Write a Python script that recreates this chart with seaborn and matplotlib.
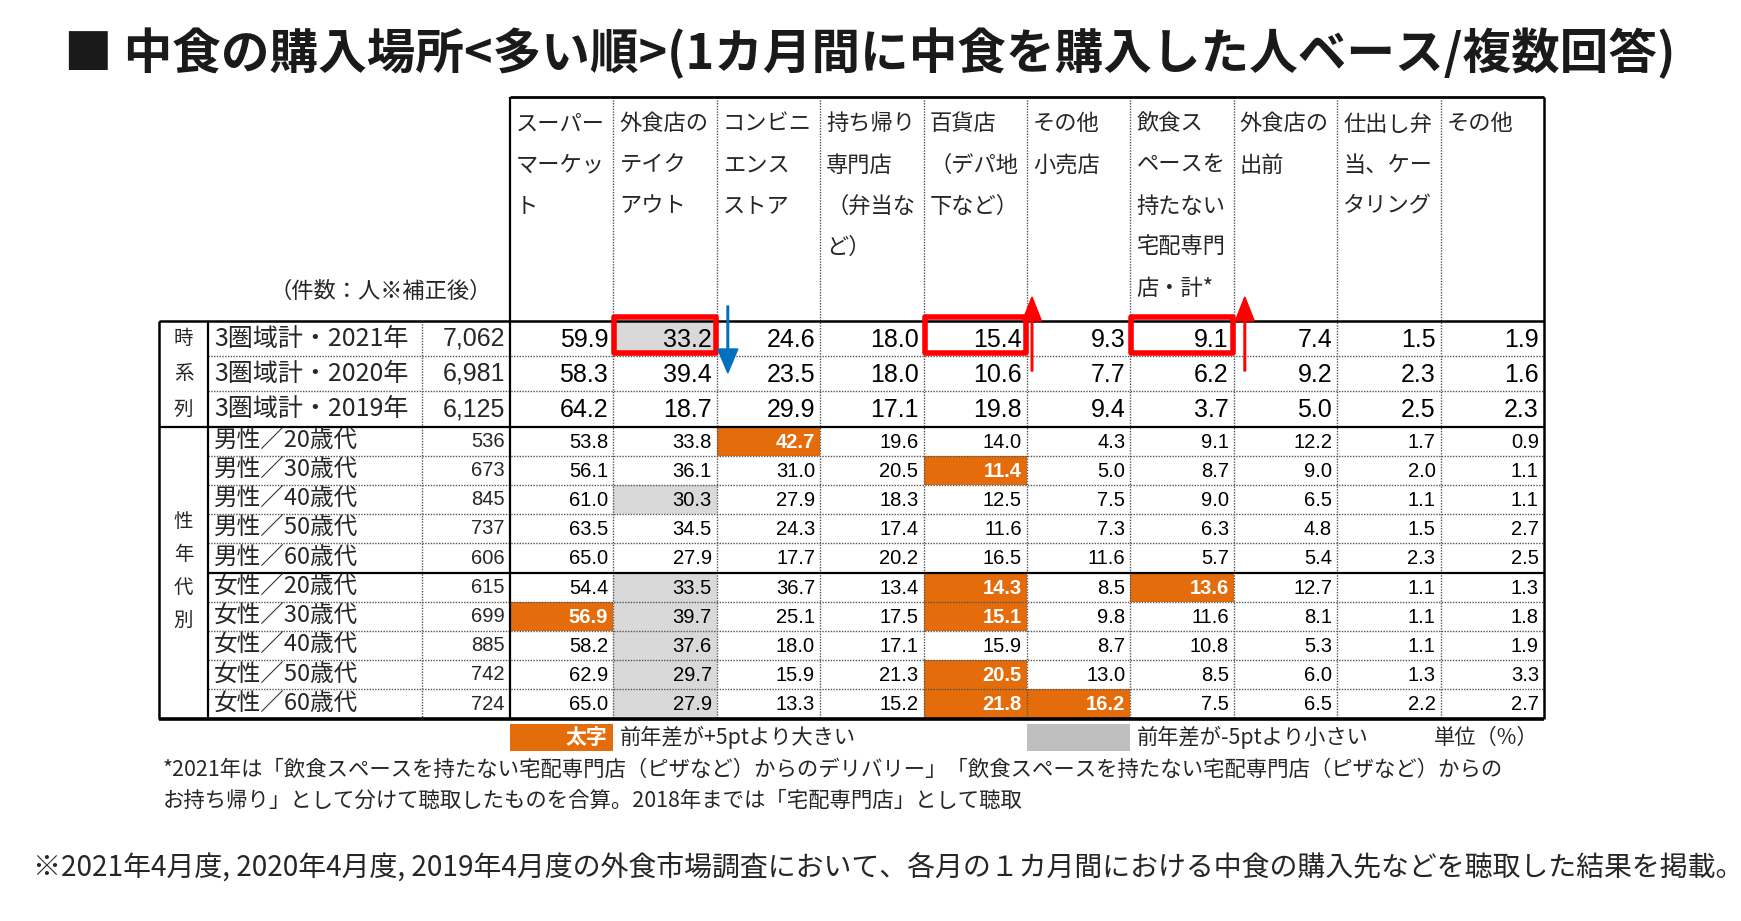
import numpy as np
import pandas as pd
import matplotlib.pyplot as plt
import seaborn as sns
from matplotlib import font_manager
from matplotlib.colors import ListedColormap
from matplotlib.patches import Rectangle, FancyArrow

# ---- data ----
title = "■ 中食の購入場所<多い順>(1カ月間に中食を購入した人ベース/複数回答)"
columns = ["スーパーマーケット", "外食店のテイクアウト", "コンビニエンスストア",
           "持ち帰り専門店（弁当など）", "百貨店（デパ地下など）", "その他小売店",
           "飲食スペースを持たない宅配専門店・計*", "外食店の出前",
           "仕出し弁当、ケータリング", "その他"]
header_lines = [["スーパー", "マーケッ", "ト"],
                ["外食店の", "テイク", "アウト"],
                ["コンビニ", "エンス", "ストア"],
                ["持ち帰り", "専門店", "（弁当な", "ど）"],
                ["百貨店", "（デパ地", "下など）"],
                ["その他", "小売店"],
                ["飲食ス", "ペースを", "持たない", "宅配専門", "店・計*"],
                ["外食店の", "出前"],
                ["仕出し弁", "当、ケー", "タリング"],
                ["その他"]]

ts_labels = ["3圏域計・2021年", "3圏域計・2020年", "3圏域計・2019年"]
ts_counts = [7062, 6981, 6125]
ts_values = [[59.9, 33.2, 24.6, 18.0, 15.4, 9.3, 9.1, 7.4, 1.5, 1.9],
             [58.3, 39.4, 23.5, 18.0, 10.6, 7.7, 6.2, 9.2, 2.3, 1.6],
             [64.2, 18.7, 29.9, 17.1, 19.8, 9.4, 3.7, 5.0, 2.5, 2.3]]
# 0 = none, 1 = +5pt or more (orange), 2 = -5pt or less (grey)
ts_flags = [[0, 2, 0, 0, 0, 0, 0, 0, 0, 0],
            [0, 0, 0, 0, 0, 0, 0, 0, 0, 0],
            [0, 0, 0, 0, 0, 0, 0, 0, 0, 0]]

demo_labels = ["男性／20歳代", "男性／30歳代", "男性／40歳代", "男性／50歳代", "男性／60歳代",
               "女性／20歳代", "女性／30歳代", "女性／40歳代", "女性／50歳代", "女性／60歳代"]
demo_counts = [536, 673, 845, 737, 606, 615, 699, 885, 742, 724]
demo_values = [[53.8, 33.8, 42.7, 19.6, 14.0, 4.3, 9.1, 12.2, 1.7, 0.9],
               [56.1, 36.1, 31.0, 20.5, 11.4, 5.0, 8.7, 9.0, 2.0, 1.1],
               [61.0, 30.3, 27.9, 18.3, 12.5, 7.5, 9.0, 6.5, 1.1, 1.1],
               [63.5, 34.5, 24.3, 17.4, 11.6, 7.3, 6.3, 4.8, 1.5, 2.7],
               [65.0, 27.9, 17.7, 20.2, 16.5, 11.6, 5.7, 5.4, 2.3, 2.5],
               [54.4, 33.5, 36.7, 13.4, 14.3, 8.5, 13.6, 12.7, 1.1, 1.3],
               [56.9, 39.7, 25.1, 17.5, 15.1, 9.8, 11.6, 8.1, 1.1, 1.8],
               [58.2, 37.6, 18.0, 17.1, 15.9, 8.7, 10.8, 5.3, 1.1, 1.9],
               [62.9, 29.7, 15.9, 21.3, 20.5, 13.0, 8.5, 6.0, 1.3, 3.3],
               [65.0, 27.9, 13.3, 15.2, 21.8, 16.2, 7.5, 6.5, 2.2, 2.7]]
demo_flags = [[0, 0, 1, 0, 0, 0, 0, 0, 0, 0],
              [0, 0, 0, 0, 1, 0, 0, 0, 0, 0],
              [0, 2, 0, 0, 0, 0, 0, 0, 0, 0],
              [0, 0, 0, 0, 0, 0, 0, 0, 0, 0],
              [0, 0, 0, 0, 0, 0, 0, 0, 0, 0],
              [0, 2, 0, 0, 1, 0, 1, 0, 0, 0],
              [1, 2, 0, 0, 1, 0, 0, 0, 0, 0],
              [0, 2, 0, 0, 0, 0, 0, 0, 0, 0],
              [0, 2, 0, 0, 1, 0, 0, 0, 0, 0],
              [0, 2, 0, 0, 1, 1, 0, 0, 0, 0]]

# highlighted cells in the 2021 row, and the direction of change
boxed_cols = [1, 4, 6]
arrow_dirs = ["down", "up", "up"]

legend_up = "前年差が+5ptより大きい"
legend_down = "前年差が-5ptより小さい"
unit_text = "単位（%）"
note_count = "（件数：人※補正後）"
footnote = ["*2021年は「飲食スペースを持たない宅配専門店（ピザなど）からのデリバリー」「飲食スペースを持たない宅配専門店（ピザなど）からの",
            "お持ち帰り」として分けて聴取したものを合算。2018年までは「宅配専門店」として聴取"]
bottom_note = "※2021年4月度, 2020年4月度, 2019年4月度の外食市場調査において、各月の１カ月間における中食の購入先などを聴取した結果を掲載。"

# ---- style ----
sns.set_style("white")
plt.rcParams["font.family"] = ["Noto Sans CJK JP", "DejaVu Sans"]
names = {f.name for f in font_manager.fontManager.ttflist}
NUM_FONT = "Liberation Sans" if "Liberation Sans" in names else "DejaVu Sans"

ORANGE = "#E46C0A"
GREY = "#D9D9D9"
GREY_LEG = "#BFBFBF"
RED = "#FF0000"
BLUE = "#0070C0"

W, H = 1741, 921
X_OUT, X_CAT, X_LAB, X_CNT, X_RIGHT = 159, 208, 422, 510, 1544
Y_HEAD, Y_TS = 97, 321
ROW_TS, ROW_DEMO = 35.2, 29.2
Y_DEMO = Y_TS + ROW_TS * len(ts_labels)
Y_BOT = Y_DEMO + ROW_DEMO * len(demo_labels)
COL_W = (X_RIGHT - X_CNT) / len(columns)

fig = plt.figure(figsize=(W / 100, H / 100), dpi=100)


def px_axes(x0, y0, x1, y1):
    return fig.add_axes([x0 / W, 1 - y1 / H, (x1 - x0) / W, (y1 - y0) / H])


cmap = ListedColormap(["white", ORANGE, GREY])


def draw_block(ax, values, flags, labels, size):
    df = pd.DataFrame(values, index=labels, columns=columns)
    fl = pd.DataFrame(flags, index=labels, columns=columns)
    sns.heatmap(fl, ax=ax, cmap=cmap, vmin=-0.5, vmax=2.5, cbar=False,
                annot=df, fmt=".1f", annot_kws={"fontsize": size, "family": NUM_FONT},
                xticklabels=False, yticklabels=False, linewidths=0)
    for t, f in zip(ax.texts, np.array(flags).ravel()):
        x, y = t.get_position()
        t.set_position((x + 0.45, y + 0.03))
        t.set_ha("right")
        t.set_color("white" if f == 1 else "black")
        t.set_fontweight("bold" if f == 1 else "normal")
    ax.set_axis_off()


draw_block(px_axes(X_CNT, Y_TS, X_RIGHT, Y_DEMO), ts_values, ts_flags, ts_labels, 18)
draw_block(px_axes(X_CNT, Y_DEMO, X_RIGHT, Y_BOT), demo_values, demo_flags, demo_labels, 14.5)

# overlay in pixel coordinates for grid, labels and notes
ov = fig.add_axes([0, 0, 1, 1])
ov.set_xlim(0, W)
ov.set_ylim(H, 0)
ov.axis("off")
ov.patch.set_alpha(0)

ov.text(64, 53, title, fontsize=35, fontweight="bold", va="center", ha="left", color="#1a1a1a")

# header
for i, lines in enumerate(header_lines):
    for j, s in enumerate(lines):
        ov.text(X_CNT + i * COL_W + 6, 124 + j * 41, s, fontsize=16, va="center", ha="left")
ov.text(492, 291, note_count, fontsize=16, va="center", ha="right")

# row labels and counts
dot = dict(color="#555555", lw=1, linestyle=(0, (1, 1)))
for k, (lab, n) in enumerate(zip(ts_labels, ts_counts)):
    yc = Y_TS + ROW_TS * (k + 0.5)
    ov.text(X_CAT + 6, yc, lab, fontsize=18, va="center", ha="left")
    ov.text(X_CNT - 5, yc, f"{n:,}", fontsize=18, family=NUM_FONT, va="center", ha="right")
    ov.text((X_OUT + X_CAT) / 2, yc, "時系列"[k], fontsize=14, va="center", ha="center")
for k, (lab, n) in enumerate(zip(demo_labels, demo_counts)):
    yc = Y_DEMO + ROW_DEMO * (k + 0.5)
    ov.text(X_CAT + 6, yc, lab, fontsize=17, va="center", ha="left")
    ov.text(X_CNT - 5, yc, f"{n:,}", fontsize=14.5, family=NUM_FONT, va="center", ha="right")
for k, ch in enumerate("性年代別"):
    ov.text((X_OUT + X_CAT) / 2, 521 + k * 33, ch, fontsize=14, va="center", ha="center")

# grid: dotted
for i in range(1, len(columns)):
    ov.vlines(X_CNT + i * COL_W, Y_HEAD, Y_BOT, **dot)
ov.vlines(X_LAB, Y_TS, Y_BOT, **dot)
for k in range(1, len(ts_labels)):
    ov.hlines(Y_TS + k * ROW_TS, X_CAT, X_RIGHT, **dot)
for k in range(1, len(demo_labels)):
    if k != 5:
        ov.hlines(Y_DEMO + k * ROW_DEMO, X_CAT, X_RIGHT, **dot)

# grid: solid
ov.hlines(Y_HEAD, X_CNT, X_RIGHT, color="black", lw=2)
ov.hlines(Y_TS, X_OUT, X_RIGHT, color="black", lw=1.8)
ov.hlines(Y_DEMO, X_OUT, X_RIGHT, color="black", lw=1.6)
ov.hlines(Y_DEMO + 5 * ROW_DEMO, X_CAT, X_RIGHT, color="black", lw=1.6)
ov.hlines(Y_BOT, X_OUT, X_RIGHT, color="black", lw=2.6)
ov.vlines(X_CNT, Y_HEAD, Y_BOT, color="black", lw=1.6)
ov.vlines(X_RIGHT, Y_HEAD, Y_BOT, color="black", lw=1.8)
ov.vlines(X_OUT, Y_TS, Y_BOT, color="black", lw=1.8)
ov.vlines(X_CAT, Y_TS, Y_BOT, color="black", lw=1.6)

# red boxes and arrows
for c, d in zip(boxed_cols, arrow_dirs):
    x0 = X_CNT + c * COL_W
    ov.add_patch(Rectangle((x0 + 1, Y_TS - 4), COL_W - 2, ROW_TS + 1, fill=False,
                           edgecolor=RED, lw=4, joinstyle="round", zorder=5))
    xa = x0 + COL_W + (11 if c != 4 else 5)
    if d == "down":
        ov.add_patch(FancyArrow(xa, Y_TS - 15, 0, 67, width=1.6, head_width=20, head_length=24,
                                length_includes_head=True, color=BLUE, zorder=6))
    else:
        ov.add_patch(FancyArrow(xa, Y_TS + 50, 0, -74, width=1.6, head_width=19, head_length=24,
                                length_includes_head=True, color=RED, zorder=6))

# legend
ly0, ly1 = 724, 751
ov.add_patch(Rectangle((X_CNT, ly0), COL_W, ly1 - ly0, color=ORANGE, lw=0))
ov.text(X_CNT + COL_W - 6, (ly0 + ly1) / 2, "太字", color="white", fontweight="bold",
        fontsize=15, va="center", ha="right")
ov.text(X_CNT + COL_W + 6, (ly0 + ly1) / 2, legend_up, fontsize=15.3, va="center", ha="left")
ov.add_patch(Rectangle((X_CNT + 5 * COL_W, ly0), COL_W, ly1 - ly0, color=GREY_LEG, lw=0))
ov.text(X_CNT + 6 * COL_W + 6, (ly0 + ly1) / 2, legend_down, fontsize=15.3, va="center", ha="left")
ov.text(1434, (ly0 + ly1) / 2, unit_text, fontsize=15.3, va="center", ha="left")

# footnotes
for j, s in enumerate(footnote):
    ov.text(163, 770 + j * 31, s, fontsize=15.4, va="center", ha="left")
ov.text(33, 868, bottom_note, fontsize=20.1, va="center", ha="left")

fig.savefig("out.png", dpi=100)
